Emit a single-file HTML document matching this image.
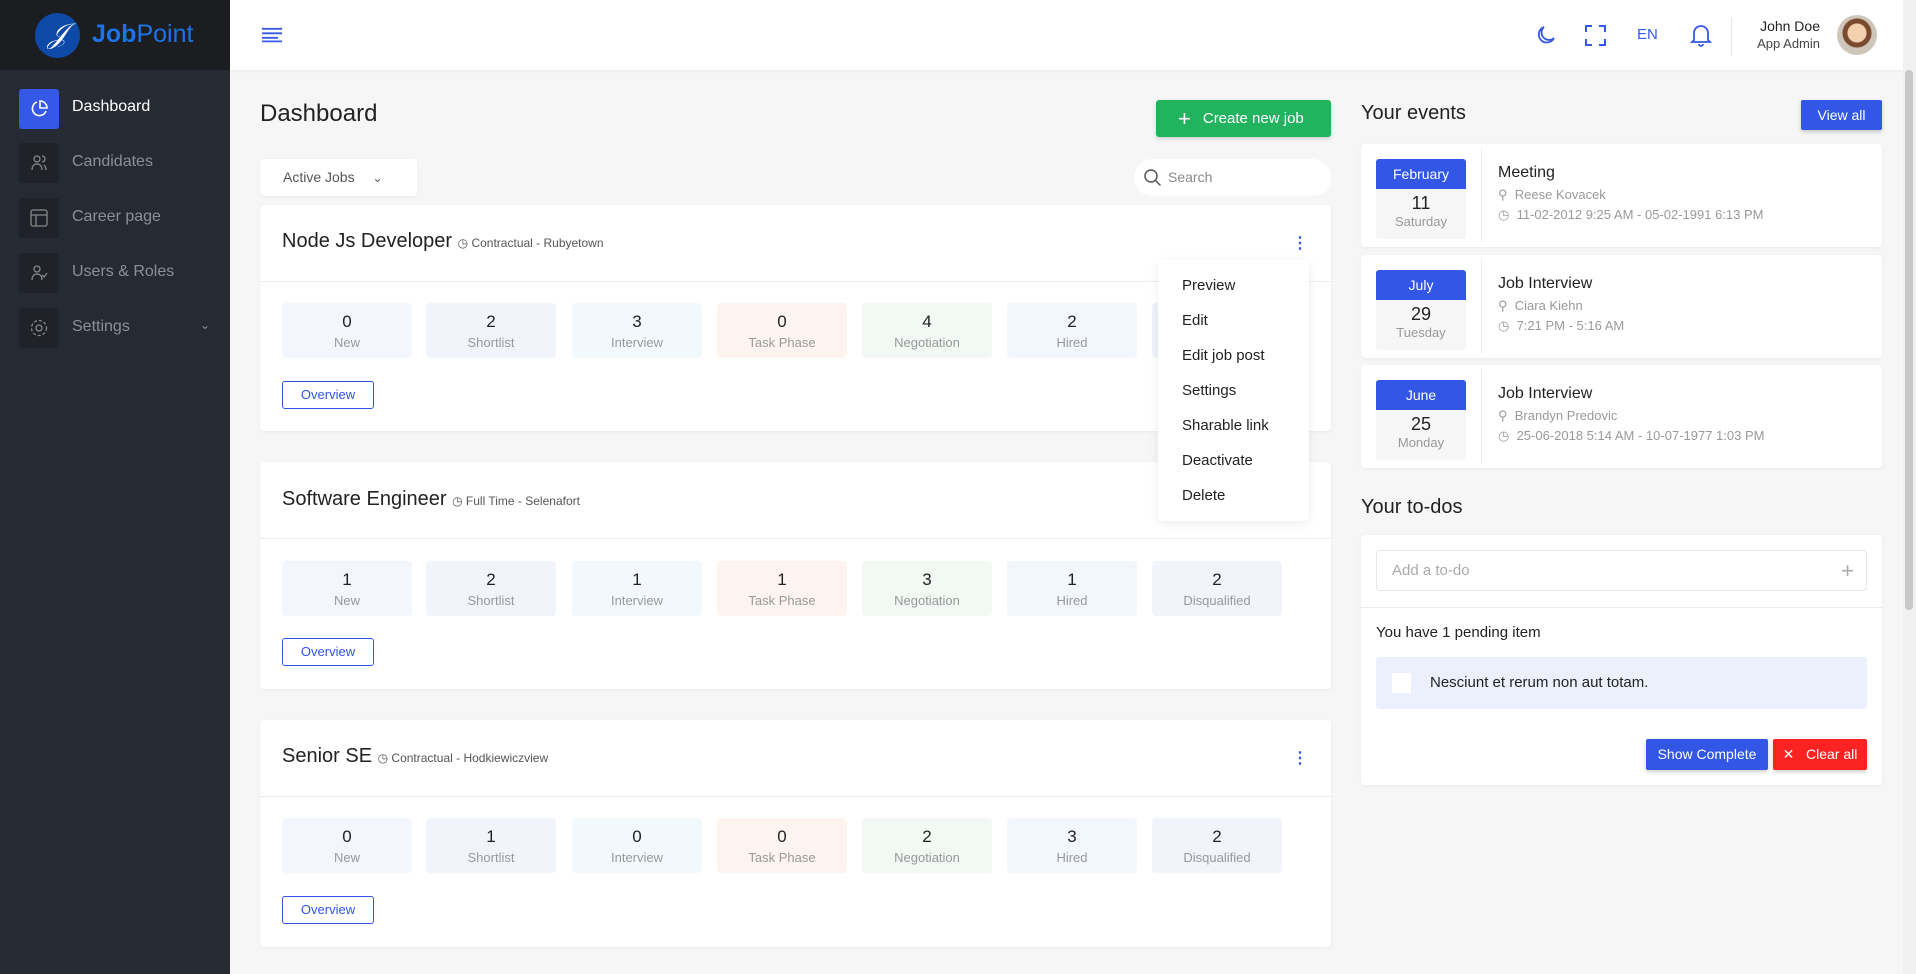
<!DOCTYPE html>
<html><head><meta charset="utf-8">
<style>
*{box-sizing:border-box;margin:0;padding:0}
body{width:1916px;height:974px;overflow:hidden;background:#f6f6f6;font-family:"Liberation Sans",sans-serif;color:#222;position:relative}
.a{position:absolute}
.side{left:0;top:0;width:230px;height:974px;background:#262a33}
.logo{left:0;top:0;width:230px;height:70px;background:#1b1d21}
.mi{left:19px;width:40px;height:40px;border-radius:3px;background:#1f2228}
.ml{left:72px;font-size:16px;color:#8a8f99}
.top{left:230px;top:0;width:1686px;height:70px;background:#fff;box-shadow:0 1px 3px rgba(0,0,0,.05)}
.card{background:#fff;border-radius:4px;box-shadow:0 1px 4px rgba(0,0,0,.05)}
.st{width:130px;height:55px;border-radius:4px;text-align:center}
.st b{display:block;font-weight:normal;font-size:17px;color:#222;margin-top:9px}
.st i{display:block;font-style:normal;font-size:13px;color:#999;margin-top:3px}
.ov{width:92px;height:28px;border:1px solid #2f55e4;border-radius:3px;color:#2f55e4;font-size:13px;text-align:center;line-height:26px}
.ttl{font-size:20px;color:#222}
.meta{font-size:12px;color:#555}
.dm{font-size:15px;color:#222;left:1182px}
.ev{left:1361px;width:521px;height:103px}
.db{left:15px;top:15px;width:90px;height:80px;background:#f6f6f6;border-radius:3px;text-align:center}
.db .m{height:30px;background:#3256e6;color:#fff;font-size:14px;line-height:30px;border-radius:3px 3px 0 0}
.db .d{font-size:18px;margin-top:4px}
.db .w{font-size:13px;color:#999}
.evt{left:137px;font-size:16px}
.evs{left:137px;font-size:13px;color:#999}
</style></head><body>
<div class="a side"></div>
<div class="a logo"></div>
<div class="a" style="left:35px;top:13px;width:45px;height:45px;border-radius:50%;background:#0d4aa8;color:#fff;font-size:28px;font-style:italic;text-align:center;line-height:44px;font-family:'Liberation Serif',serif">𝒥</div>
<div class="a" style="left:92px;top:20px;font-size:25px;font-weight:bold;color:#1a73e8">Job<span style="font-weight:normal">Point</span></div>

<div class="a mi" style="top:89px;background:#3658e8"></div>
<svg class="a" style="left:29px;top:99px" width="20" height="20" viewBox="0 0 20 20" fill="none" stroke="#fff" stroke-width="1.6"><path d="M8 3a7 7 0 1 0 9 9"/><path d="M11 2v7h7a7 7 0 0 0-7-7z"/></svg>
<div class="a ml" style="top:98px;color:#fff">Dashboard</div>
<div class="a mi" style="top:143px"></div><div class="a ml" style="top:153px">Candidates</div>
<div class="a mi" style="top:198px"></div><div class="a ml" style="top:208px">Career page</div>
<div class="a mi" style="top:253px"></div><div class="a ml" style="top:263px">Users &amp; Roles</div>
<div class="a mi" style="top:308px"></div><div class="a ml" style="top:318px">Settings</div>
<div class="a" style="left:200px;top:318px;color:#8a8f99;font-size:12px">⌄</div>
<svg class="a" style="left:29px;top:153px" width="20" height="20" fill="none" stroke="#888" stroke-width="1.3"><circle cx="8" cy="6" r="3"/><path d="M3 17c0-4 2-6 5-6s5 2 5 6M13 3a3 3 0 0 1 0 6M15 12c1 1 2 3 2 5"/></svg>
<svg class="a" style="left:29px;top:208px" width="20" height="20" fill="none" stroke="#888" stroke-width="1.3"><rect x="2" y="2" width="16" height="16" rx="2"/><path d="M2 7h16M7 7v11"/></svg>
<svg class="a" style="left:29px;top:263px" width="20" height="20" fill="none" stroke="#888" stroke-width="1.3"><circle cx="8" cy="6" r="3"/><path d="M3 17c0-4 2-6 5-6s5 2 5 6M13 12l2 2 3-4"/></svg>
<svg class="a" style="left:29px;top:318px" width="20" height="20" fill="none" stroke="#888" stroke-width="1.3"><circle cx="10" cy="10" r="3"/><circle cx="10" cy="10" r="7.5" stroke-dasharray="3 2"/></svg>

<div class="a top"></div>
<svg class="a" style="left:262px;top:27px" width="20" height="16" stroke="#3658e8" stroke-width="2"><path d="M0 2h20M0 7h20M0 12h16M0 16h20" transform="scale(1,0.9)"/></svg>
<svg class="a" style="left:1535px;top:24px" width="22" height="22" fill="none" stroke="#3658e8" stroke-width="1.8"><path d="M19 14A8 8 0 1 1 9 3a6 6 0 0 0 10 11z"/></svg>
<svg class="a" style="left:1585px;top:25px" width="21" height="21" fill="none" stroke="#3658e8" stroke-width="2"><path d="M1 7V1h6M14 1h6v6M20 14v6h-6M7 20H1v-6"/></svg>
<div class="a" style="left:1637px;top:26px;font-size:15px;color:#3658e8">EN</div>
<svg class="a" style="left:1690px;top:23px" width="22" height="24" fill="none" stroke="#3658e8" stroke-width="1.8"><path d="M4 17V10a7 7 0 0 1 14 0v7l2 2H2zM9 21a2 2 0 0 0 4 0"/></svg>
<div class="a" style="left:1731px;top:18px;width:1px;height:38px;background:#e6e6e6"></div>
<div class="a" style="left:1740px;top:18px;width:80px;text-align:right;font-size:14px;line-height:17px">John Doe<br><span style="font-size:13px;color:#444">App Admin</span></div>
<div class="a" style="left:1837px;top:15px;width:40px;height:40px;border-radius:50%;background:radial-gradient(circle at 50% 45%,#f3d1b0 0 9px,#7b4a2e 10px 14px,#cfc6bb 15px)"></div>
<div class="a" style="left:1903px;top:0;width:13px;height:974px;background:#f1f1f1"></div>
<div class="a" style="left:1905px;top:70px;width:8px;height:540px;background:#c8c8c8;border-radius:4px"></div>

<div class="a" style="left:260px;top:100px;font-size:24px">Dashboard</div>
<div class="a" style="left:1156px;top:100px;width:175px;height:37px;background:#22b35e;border-radius:3px;color:#fff;font-size:15px;line-height:37px;padding-left:22px;box-shadow:0 2px 4px rgba(0,0,0,.15)"><span style="font-size:22px;vertical-align:-3px;margin-right:12px">+</span>Create new job</div>
<div class="a card" style="left:260px;top:159px;width:157px;height:37px;font-size:14px;color:#555;line-height:37px;padding-left:23px">Active Jobs <span style="margin-left:14px;font-size:12px">⌄</span></div>
<div class="a" style="left:1134px;top:159px;width:197px;height:37px;background:#fff;border-radius:19px;font-size:14px;color:#888;line-height:37px;padding-left:34px">Search</div>
<svg class="a" style="left:1143px;top:168px" width="20" height="20" fill="none" stroke="#555" stroke-width="1.5"><circle cx="8" cy="8" r="6"/><path d="M12.5 12.5l5 5"/></svg>

<!-- cards -->
<div class="a card" style="left:260px;top:205px;width:1071px;height:226px"></div>
<div class="a card" style="left:260px;top:462px;width:1071px;height:227px"></div>
<div class="a card" style="left:260px;top:720px;width:1071px;height:227px"></div>
<div class="a" style="left:260px;top:281px;width:1071px;height:1px;background:#ececec"></div>
<div class="a" style="left:260px;top:538px;width:1071px;height:1px;background:#ececec"></div>
<div class="a" style="left:260px;top:796px;width:1071px;height:1px;background:#ececec"></div>

<div class="a ttl" style="left:282px;top:230px">Node Js Developer <span class="meta">◷ Contractual - Rubyetown</span></div>
<div class="a ttl" style="left:282px;top:488px">Software Engineer <span class="meta">◷ Full Time - Selenafort</span></div>
<div class="a ttl" style="left:282px;top:745px">Senior SE <span class="meta">◷ Contractual - Hodkiewiczview</span></div>
<div class="a" style="left:1292px;top:233px;color:#3658e8;font-size:16px;font-weight:bold">⋮</div>
<div class="a" style="left:1292px;top:748px;color:#3658e8;font-size:16px;font-weight:bold">⋮</div>

<!-- row1 -->
<div class="a st" style="left:282px;top:303px;background:#f3f6fd"><b>0</b><i>New</i></div>
<div class="a st" style="left:426px;top:303px;background:#f1f4fb"><b>2</b><i>Shortlist</i></div>
<div class="a st" style="left:572px;top:303px;background:#f2f9fc"><b>3</b><i>Interview</i></div>
<div class="a st" style="left:717px;top:303px;background:#fdf4ef"><b>0</b><i>Task Phase</i></div>
<div class="a st" style="left:862px;top:303px;background:#f2f8f4"><b>4</b><i>Negotiation</i></div>
<div class="a st" style="left:1007px;top:303px;background:#f2f6fd"><b>2</b><i>Hired</i></div>
<div class="a st" style="left:1152px;top:303px;background:#f1f4fb"><b>1</b><i>Disqualified</i></div>
<div class="a ov" style="left:282px;top:381px">Overview</div>
<!-- row2 -->
<div class="a st" style="left:282px;top:561px;background:#f3f6fd"><b>1</b><i>New</i></div>
<div class="a st" style="left:426px;top:561px;background:#f1f4fb"><b>2</b><i>Shortlist</i></div>
<div class="a st" style="left:572px;top:561px;background:#f2f9fc"><b>1</b><i>Interview</i></div>
<div class="a st" style="left:717px;top:561px;background:#fdf4ef"><b>1</b><i>Task Phase</i></div>
<div class="a st" style="left:862px;top:561px;background:#f2f8f4"><b>3</b><i>Negotiation</i></div>
<div class="a st" style="left:1007px;top:561px;background:#f2f6fd"><b>1</b><i>Hired</i></div>
<div class="a st" style="left:1152px;top:561px;background:#f1f4fb"><b>2</b><i>Disqualified</i></div>
<div class="a ov" style="left:282px;top:638px">Overview</div>
<!-- row3 -->
<div class="a st" style="left:282px;top:818px;background:#f3f6fd"><b>0</b><i>New</i></div>
<div class="a st" style="left:426px;top:818px;background:#f1f4fb"><b>1</b><i>Shortlist</i></div>
<div class="a st" style="left:572px;top:818px;background:#f2f9fc"><b>0</b><i>Interview</i></div>
<div class="a st" style="left:717px;top:818px;background:#fdf4ef"><b>0</b><i>Task Phase</i></div>
<div class="a st" style="left:862px;top:818px;background:#f2f8f4"><b>2</b><i>Negotiation</i></div>
<div class="a st" style="left:1007px;top:818px;background:#f2f6fd"><b>3</b><i>Hired</i></div>
<div class="a st" style="left:1152px;top:818px;background:#f1f4fb"><b>2</b><i>Disqualified</i></div>
<div class="a ov" style="left:282px;top:896px">Overview</div>

<!-- dropdown -->
<div class="a" style="left:1158px;top:260px;width:151px;height:261px;background:#fff;border-radius:4px;box-shadow:0 2px 10px rgba(0,0,0,.08)"></div>
<div class="a dm" style="top:277px">Preview</div>
<div class="a dm" style="top:312px">Edit</div>
<div class="a dm" style="top:347px">Edit job post</div>
<div class="a dm" style="top:382px">Settings</div>
<div class="a dm" style="top:417px">Sharable link</div>
<div class="a dm" style="top:452px">Deactivate</div>
<div class="a dm" style="top:487px">Delete</div>

<!-- events -->
<div class="a" style="left:1361px;top:102px;font-size:20px">Your events</div>
<div class="a" style="left:1801px;top:100px;width:81px;height:30px;background:#3256e6;color:#fff;font-size:14px;text-align:center;line-height:30px;border-radius:2px;box-shadow:0 2px 4px rgba(0,0,0,.2)">View all</div>

<div class="a card ev" style="top:144px">
 <div class="a db"><div class="m">February</div><div class="d">11</div><div class="w">Saturday</div></div>
 <div class="a" style="left:120px;top:4px;width:1px;height:95px;background:#ececec"></div>
 <div class="a evt" style="top:20px">Meeting</div>
 <div class="a evs" style="top:43px">⚲&nbsp; Reese Kovacek</div>
 <div class="a evs" style="top:63px">◷&nbsp; 11-02-2012 9:25 AM - 05-02-1991 6:13 PM</div>
</div>
<div class="a card ev" style="top:255px">
 <div class="a db"><div class="m">July</div><div class="d">29</div><div class="w">Tuesday</div></div>
 <div class="a" style="left:120px;top:4px;width:1px;height:95px;background:#ececec"></div>
 <div class="a evt" style="top:20px">Job Interview</div>
 <div class="a evs" style="top:43px">⚲&nbsp; Ciara Kiehn</div>
 <div class="a evs" style="top:63px">◷&nbsp; 7:21 PM - 5:16 AM</div>
</div>
<div class="a card ev" style="top:365px">
 <div class="a db"><div class="m">June</div><div class="d">25</div><div class="w">Monday</div></div>
 <div class="a" style="left:120px;top:4px;width:1px;height:95px;background:#ececec"></div>
 <div class="a evt" style="top:20px">Job Interview</div>
 <div class="a evs" style="top:43px">⚲&nbsp; Brandyn Predovic</div>
 <div class="a evs" style="top:63px">◷&nbsp; 25-06-2018 5:14 AM - 10-07-1977 1:03 PM</div>
</div>

<!-- todos -->
<div class="a" style="left:1361px;top:496px;font-size:20px">Your to-dos</div>
<div class="a card" style="left:1361px;top:535px;width:521px;height:250px"></div>
<div class="a" style="left:1376px;top:550px;width:491px;height:41px;border:1px solid #e6e6e6;border-radius:4px;font-size:15px;color:#aaa;line-height:39px;padding-left:15px">Add a to-do<span style="position:absolute;right:12px;font-size:22px;color:#aaa">+</span></div>
<div class="a" style="left:1361px;top:607px;width:521px;height:1px;background:#ececec"></div>
<div class="a" style="left:1376px;top:624px;font-size:15px">You have 1 pending item</div>
<div class="a" style="left:1376px;top:657px;width:491px;height:52px;background:#ecf0fc;border-radius:3px"></div>
<div class="a" style="left:1392px;top:673px;width:19px;height:20px;background:#fff"></div>
<div class="a" style="left:1430px;top:674px;font-size:15px">Nesciunt et rerum non aut totam.</div>
<div class="a" style="left:1646px;top:739px;width:122px;height:31px;background:#3256e6;color:#fff;font-size:14px;text-align:center;line-height:31px;border-radius:2px;box-shadow:0 2px 4px rgba(0,0,0,.2)">Show Complete</div>
<div class="a" style="left:1773px;top:739px;width:94px;height:31px;background:#fb2222;color:#fff;font-size:14px;text-align:center;line-height:31px;border-radius:2px;box-shadow:0 2px 4px rgba(0,0,0,.2)">✕&nbsp;&nbsp; Clear all</div>
</body></html>
